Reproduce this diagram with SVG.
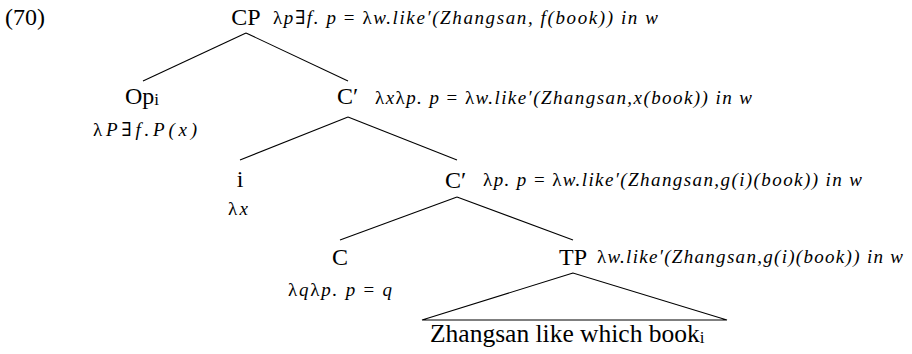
<svg xmlns="http://www.w3.org/2000/svg" width="912" height="354" viewBox="0 0 912 354">
<style>
text { font-family: "Liberation Serif", "DejaVu Serif", serif; fill: #000; }
.n { font-size: 24px; }
.s { font-family: "Liberation Serif", "DejaVu Serif", serif; font-size: 19px; font-style: italic; }
.u { font-style: normal; }
.sub { font-size: 17px; }
.e { font-size: 25.5px; }
line, polygon { stroke: #000; stroke-width: 1.1; fill: none; }
</style>
<rect width="912" height="354" fill="#fff"/>
<g id="connectors">
<line x1="246" y1="33" x2="143" y2="81"/>
<line x1="246" y1="33" x2="348" y2="81"/>
<line x1="348" y1="117" x2="240" y2="160"/>
<line x1="348" y1="117" x2="457" y2="160"/>
<line x1="457" y1="197" x2="340" y2="240"/>
<line x1="457" y1="197" x2="573" y2="240"/>
<polygon points="573,273 422,320 727,320"/>
</g>
<g id="example-number"><text class="n" x="5" y="25">(70)</text></g>
<g id="node-CP">
<text class="n" x="246" y="25" text-anchor="middle">CP</text>
<text class="s" x="273" y="24" textLength="385" lengthAdjust="spacing"><tspan class="u">λ</tspan>p<tspan class="u">∃</tspan>f. p <tspan class="u">=</tspan> <tspan class="u">λ</tspan>w.like′(Zhangsan, f(book)) in w</text>
</g>
<g id="node-Op">
<text class="n" x="125" y="104">Op<tspan class="sub" dy="1">i</tspan></text>
<text class="s" x="93" y="136" textLength="104" lengthAdjust="spacing"><tspan class="u">λ</tspan>P<tspan class="u">∃</tspan>f.P(x)</text>
</g>
<g id="node-Cbar1">
<text class="n" x="337" y="104">C′</text>
<text class="s" x="375" y="104" textLength="377" lengthAdjust="spacing"><tspan class="u">λ</tspan>x<tspan class="u">λ</tspan>p. p <tspan class="u">=</tspan> <tspan class="u">λ</tspan>w.like′(Zhangsan,x(book)) in w</text>
</g>
<g id="node-i">
<text class="n" x="240" y="187" text-anchor="middle">i</text>
<text class="s" x="228" y="215" textLength="20" lengthAdjust="spacing"><tspan class="u">λ</tspan>x</text>
</g>
<g id="node-Cbar2">
<text class="n" x="445" y="188">C′</text>
<text class="s" x="483" y="186" textLength="379" lengthAdjust="spacing"><tspan class="u">λ</tspan>p. p <tspan class="u">=</tspan> <tspan class="u">λ</tspan>w.like′(Zhangsan,g(i)(book)) in w</text>
</g>
<g id="node-C">
<text class="n" x="340" y="265" text-anchor="middle">C</text>
<text class="s" x="288" y="296" textLength="104" lengthAdjust="spacing"><tspan class="u">λ</tspan>q<tspan class="u">λ</tspan>p. p <tspan class="u">=</tspan> q</text>
</g>
<g id="node-TP">
<text class="n" x="573" y="265" text-anchor="middle">TP</text>
<text class="s" x="597" y="263" textLength="306" lengthAdjust="spacing"><tspan class="u">λ</tspan>w.like′(Zhangsan,g(i)(book)) in w</text>
</g>
<g id="node-yield">
<text class="e" x="430" y="342">Zhangsan like which book<tspan class="sub" dy="1">i</tspan></text>
</g>
</svg>
